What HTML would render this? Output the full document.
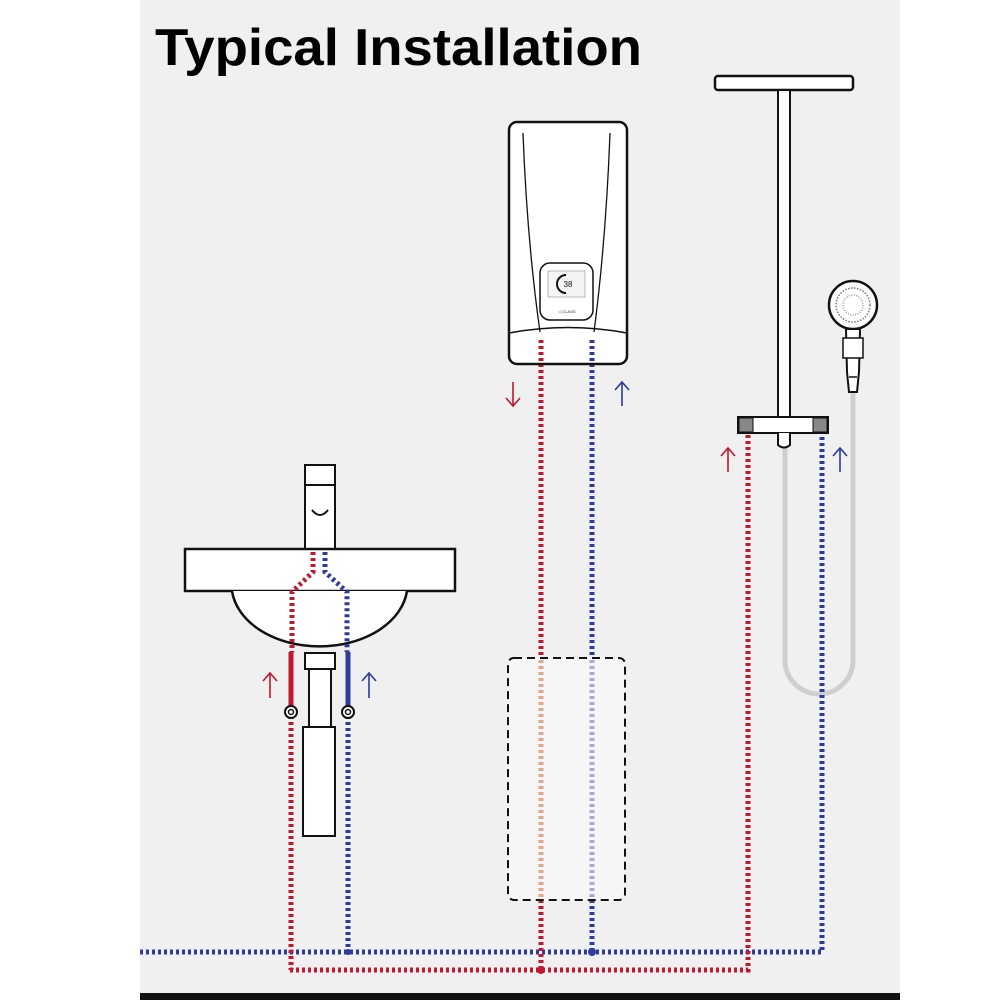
<!DOCTYPE html>
<html><head><meta charset="utf-8"><style>html,body{margin:0;padding:0;background:#fff}svg{display:block}</style></head>
<body>
<svg width="1000" height="1000" viewBox="0 0 1000 1000" xmlns="http://www.w3.org/2000/svg">
<rect x="0" y="0" width="1000" height="1000" fill="#fff"/>
<rect x="140" y="0" width="760" height="1000" fill="#f0f0f0"/>
<rect x="140" y="993" width="760" height="7" fill="#111"/>
<text x="155" y="65" font-family="Liberation Sans, sans-serif" font-weight="bold" font-size="52" textLength="487" lengthAdjust="spacingAndGlyphs" fill="#000">Typical Installation</text>

<path d="M853 393 V660 A34 34 0 0 1 785 660 V440" fill="none" stroke="#cfcfcf" stroke-width="5"/>

<g fill="none" stroke-width="5" stroke-dasharray="3 3">
  <path d="M140 952 H822 V432" stroke="#2e3a9c"/>
  <path d="M290 970 H748 V432" stroke="#c0182e"/>
  <path d="M541 340 V658" stroke="#c0182e"/>
  <path d="M541 900 V970" stroke="#c0182e"/>
  <path d="M592 340 V658" stroke="#2e3a9c"/>
  <path d="M592 900 V952" stroke="#2e3a9c"/>
  <path d="M291 716 V970" stroke="#c0182e"/>
  <path d="M348 716 V952" stroke="#2e3a9c"/>
</g>
<circle cx="541" cy="970" r="4" fill="#c0182e"/>
<circle cx="592" cy="952" r="4" fill="#2e3a9c"/>
<circle cx="348" cy="952" r="3" fill="#2e3a9c"/>

<rect x="305" y="465" width="30" height="86" fill="#fff" stroke="#111" stroke-width="2"/>
<rect x="305" y="465" width="30" height="20" fill="#fff" stroke="#111" stroke-width="2"/>
<path d="M312 510 Q320 520 328 510" fill="none" stroke="#111" stroke-width="2"/>
<rect x="185" y="549" width="270" height="42" fill="#fff" stroke="#111" stroke-width="2.5"/>
<path d="M232 591 A88 62 0 0 0 407 591" fill="#fff" stroke="#111" stroke-width="2.5"/>
<rect x="305" y="653" width="30" height="16" fill="#fff" stroke="#111" stroke-width="2"/>
<rect x="309" y="669" width="22" height="58" fill="#fff" stroke="#111" stroke-width="2"/>
<rect x="303" y="727" width="32" height="109" fill="#fff" stroke="#111" stroke-width="2"/>
<g fill="none" stroke-width="5" stroke-dasharray="3 3">
  <path d="M313 552 V572 L292 592 V652" stroke="#c0182e"/>
  <path d="M325 552 V572 L347 592 V652" stroke="#2e3a9c"/>
</g>
<line x1="291" y1="652" x2="291" y2="706" stroke="#c0182e" stroke-width="5"/>
<line x1="348" y1="652" x2="348" y2="706" stroke="#2e3a9c" stroke-width="5"/>
<circle cx="291" cy="712" r="6" fill="#fff" stroke="#111" stroke-width="2"/><circle cx="291" cy="712" r="2.5" fill="none" stroke="#111" stroke-width="1.5"/>
<circle cx="348" cy="712" r="6" fill="#fff" stroke="#111" stroke-width="2"/><circle cx="348" cy="712" r="2.5" fill="none" stroke="#111" stroke-width="1.5"/>

<rect x="508" y="658" width="117" height="242" rx="6" fill="#f8f8f8" fill-opacity="0.7" stroke="#111" stroke-width="2" stroke-dasharray="8 5"/>
<g fill="none" stroke-width="5" stroke-dasharray="3 3">
  <path d="M541 660 V898" stroke="#e0a890"/>
  <path d="M592 660 V898" stroke="#a8aad4"/>
</g>

<rect x="509" y="122" width="118" height="242" rx="8" fill="#fff" stroke="#111" stroke-width="2.5"/>
<path d="M509 333 Q568 322 627 333" fill="none" stroke="#111" stroke-width="1.5"/>
<path d="M523 133 Q527 240 540 332" fill="none" stroke="#111" stroke-width="1.3"/>
<path d="M610 133 Q606 240 594 332" fill="none" stroke="#111" stroke-width="1.3"/>
<rect x="540" y="263" width="53" height="57" rx="10" fill="#fff" stroke="#111" stroke-width="1.5"/>
<rect x="548" y="271" width="37" height="26" fill="#f4f4f4" stroke="#999" stroke-width="0.7"/>
<path d="M566 275 A9 9 0 0 0 566 293" fill="none" stroke="#111" stroke-width="2"/>
<text x="568" y="287" font-family="Liberation Sans, sans-serif" font-size="8" text-anchor="middle" fill="#111">38</text>
<text x="567" y="313" font-family="Liberation Sans, sans-serif" font-size="4" text-anchor="middle" fill="#333">◁ CLAGE</text>
<g fill="none" stroke-width="5" stroke-dasharray="3 3">
  <path d="M541 340 V364" stroke="#c0182e"/>
  <path d="M592 340 V364" stroke="#2e3a9c"/>
</g>

<rect x="715" y="76" width="138" height="14" rx="3" fill="#fff" stroke="#111" stroke-width="2.5"/>
<rect x="778" y="90" width="12" height="328" fill="#fff" stroke="#111" stroke-width="2"/>
<rect x="738" y="417" width="90" height="16" fill="#fff" stroke="#111" stroke-width="2"/>
<rect x="739" y="418" width="14" height="14" fill="#888" stroke="#111" stroke-width="1"/>
<rect x="813" y="418" width="14" height="14" fill="#888" stroke="#111" stroke-width="1"/>
<path d="M778 433 V445 Q784 450 790 445 V433" fill="#fff" stroke="#111" stroke-width="2"/>
<circle cx="853" cy="305" r="24" fill="#fff" stroke="#111" stroke-width="2.5"/>
<circle cx="853" cy="305" r="17" fill="none" stroke="#777" stroke-width="1.5" stroke-dasharray="1.5 1.5"/>
<circle cx="853" cy="305" r="10" fill="none" stroke="#999" stroke-width="1.5" stroke-dasharray="1 1.5"/>
<path d="M846 329 L847 372 L849 392 H857 L859 372 L860 329 Z" fill="#fff" stroke="#111" stroke-width="2"/>
<rect x="843" y="338" width="20" height="20" fill="#fff" stroke="#111" stroke-width="1.5"/>
<line x1="849" y1="377" x2="857" y2="377" stroke="#111" stroke-width="1.5"/>

<g fill="none" stroke-width="1.6">
  <path d="M513 382 V406 M506 398 L513 406 L520 398" stroke="#c0182e"/>
  <path d="M622 406 V382 M615 390 L622 382 L629 390" stroke="#2e3a9c"/>
  <path d="M728 472 V448 M721 456 L728 448 L735 456" stroke="#c0182e"/>
  <path d="M840 472 V448 M833 456 L840 448 L847 456" stroke="#2e3a9c"/>
  <path d="M270 698 V673 M263 681 L270 673 L277 681" stroke="#c0182e"/>
  <path d="M369 698 V673 M362 681 L369 673 L376 681" stroke="#2e3a9c"/>
</g>
</svg>
</body></html>
